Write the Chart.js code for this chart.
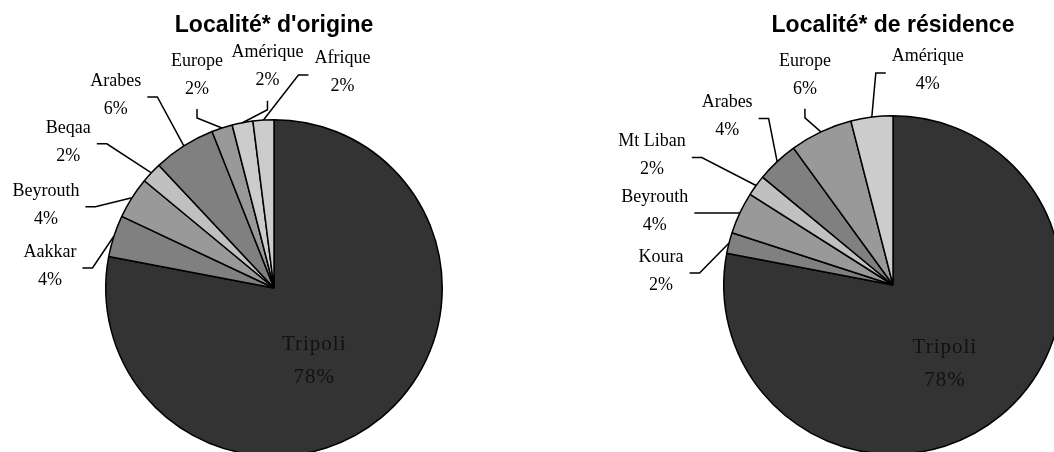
<!DOCTYPE html>
<html lang="fr">
  <head>
    <meta charset="UTF-8" />
    <title>Localité d'origine / de résidence</title>
    <script src="https://cdn.jsdelivr.net/npm/chart.js"></script>
    <style>
      body {
        margin: 0;
        width: 1054px;
        height: 452px;
        overflow: hidden;
        position: relative;
        background: #fff;
      }
      canvas {
        position: absolute;
        top: 0;
      }
      #originChart {
        left: 0;
      }
      #residenceChart {
        left: 527px;
      }
    </style>
  </head>
  <body>
    <canvas id="originChart" width="527" height="460"></canvas>
    <canvas id="residenceChart" width="560" height="460"></canvas>

    <script>
      // data (percent)
      const originLabels = ["Tripoli", "Aakkar", "Beyrouth", "Beqaa", "Arabes", "Europe", "Amérique", "Afrique"];
      const originValues = [78, 4, 4, 2, 6, 2, 2, 2];

      const residenceLabels = ["Tripoli", "Koura", "Beyrouth", "Mt Liban", "Arabes", "Europe", "Amérique"];
      const residenceValues = [78, 2, 4, 2, 4, 6, 4];

      const originColors = ["#333333", "#808080", "#999999", "#c0c0c0", "#808080", "#999999", "#cccccc", "#cccccc"];
      const residenceColors = ["#333333", "#808080", "#999999", "#c0c0c0", "#808080", "#999999", "#cccccc"];

      // label placement: offset from the slice's outer midpoint + where the leader attaches
      const originPlacement = [
        [-67, -73, "inside"],
        [-64, 16, "right"],
        [-86, -7, "right"],
        [-83, -45, "right"],
        [-68, -65, "right"],
        [-25, -67, "bottom"],
        [25, -70, "bottom"],
        [79, -62, "left"],
      ];
      const residencePlacement = [
        [-56, -68, "inside"],
        [-68, 14, "right"],
        [-85, -16, "right"],
        [-104, -44, "right"],
        [-50, -59, "right"],
        [-16, -71, "bottom"],
        [56, -61, "left"],
      ];

      const serif = "'Liberation Serif', 'Times New Roman', serif";

      // draws the Excel-like outside labels with elbow leader lines
      const sliceLabels = {
        id: "sliceLabels",
        afterDraw(chart, args, opts) {
          const ctx = chart.ctx;
          const meta = chart.getDatasetMeta(0);
          const values = chart.data.datasets[0].data;
          ctx.save();
          meta.data.forEach((arc, i) => {
            const p = arc.getProps(["x", "y", "startAngle", "endAngle", "outerRadius"], true);
            const mid = (p.startAngle + p.endAngle) / 2;
            const ax = p.x + p.outerRadius * Math.cos(mid);
            const ay = p.y + p.outerRadius * Math.sin(mid);
            const [dx, dy, side] = opts.placement[i];
            const lx = ax + dx;
            const ly = ay + dy;
            const name = chart.data.labels[i];
            const pct = values[i] + "%";

            ctx.textAlign = "center";
            ctx.textBaseline = "middle";
            if (side === "inside") {
              ctx.font = "21px " + serif;
              ctx.fillStyle = "#111111";
              ctx.letterSpacing = "1px";
              ctx.fillText(name, lx, ly);
              ctx.fillText(pct, lx, ly + 32.6);
              ctx.letterSpacing = "0px";
              return;
            }

            ctx.font = "18px " + serif;
            ctx.fillStyle = "#000000";
            ctx.fillText(name, lx, ly);
            ctx.fillText(pct, lx, ly + 28);
            const w = Math.max(ctx.measureText(name).width, ctx.measureText(pct).width);

            ctx.beginPath();
            ctx.strokeStyle = "#000000";
            ctx.lineWidth = 1.5;
            if (side === "right") {
              const sx = lx + w / 2 + 6;
              ctx.moveTo(sx, ly + 16);
              ctx.lineTo(sx + 10, ly + 16);
            } else if (side === "left") {
              const sx = lx - w / 2 - 6;
              ctx.moveTo(sx, ly + 17);
              ctx.lineTo(sx - 10, ly + 17);
            } else {
              ctx.moveTo(lx, ly + 48);
              ctx.lineTo(lx, ly + 57);
            }
            ctx.lineTo(ax, ay);
            ctx.stroke();
          });
          ctx.restore();
        },
      };

      function makePie(id, title, labels, values, colors, placement, padding, titleGap) {
        return new Chart(document.getElementById(id), {
          type: "pie",
          data: {
            labels: labels,
            datasets: [
              {
                data: values,
                backgroundColor: colors,
                borderColor: "#000000",
                borderWidth: 1.5,
              },
            ],
          },
          options: {
            responsive: false,
            animation: false,
            layout: { padding: padding },
            plugins: {
              legend: { display: false },
              tooltip: { enabled: false },
              title: {
                display: true,
                text: title,
                color: "#000000",
                font: { family: "'Liberation Sans', Arial, sans-serif", size: 23, weight: "bold" },
                padding: { top: 12, bottom: titleGap },
              },
              sliceLabels: { placement: placement },
            },
          },
          plugins: [sliceLabels],
        });
      }

      makePie(
        "originChart",
        "Localité* d'origine",
        originLabels,
        originValues,
        originColors,
        originPlacement,
        { left: 105, right: 84, top: 0, bottom: 3 },
        79.4
      );

      makePie(
        "residenceChart",
        "Localité* de résidence",
        residenceLabels,
        residenceValues,
        residenceColors,
        residencePlacement,
        { left: 196, right: 24, top: 0, bottom: 5 },
        75.4
      );
    </script>
  </body>
</html>
